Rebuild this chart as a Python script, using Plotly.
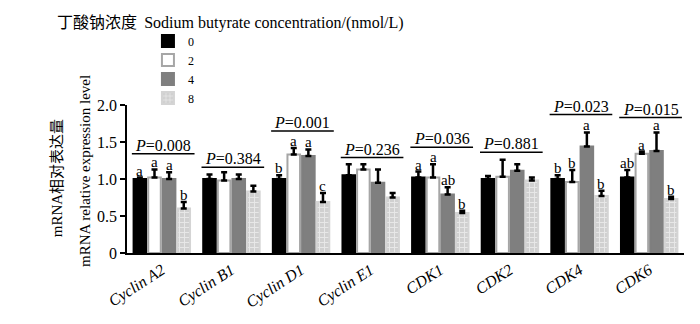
import plotly.graph_objects as go

categories = ["Cyclin A2", "Cyclin B1", "Cyclin D1", "Cyclin E1", "CDK1", "CDK2", "CDK4", "CDK6"]
series_names = ["0", "2", "4", "8"]

v0 = [1.00, 1.00, 1.00, 1.05, 1.02, 1.00, 1.00, 1.02]
e0 = [0.02, 0.06, 0.05, 0.15, 0.08, 0.04, 0.05, 0.10]
v2 = [1.02, 0.98, 1.33, 1.13, 1.02, 1.03, 0.96, 1.34]
e2 = [0.11, 0.11, 0.09, 0.07, 0.18, 0.23, 0.16, 0.03]
v4 = [1.00, 1.00, 1.31, 0.95, 0.79, 1.11, 1.44, 1.38]
e4 = [0.09, 0.06, 0.09, 0.18, 0.10, 0.09, 0.19, 0.25]
v8 = [0.60, 0.83, 0.69, 0.75, 0.54, 0.98, 0.77, 0.73]
e8 = [0.09, 0.08, 0.12, 0.06, 0.03, 0.04, 0.07, 0.03]

p_values = ["0.008", "0.384", "0.001", "0.236", "0.036", "0.881", "0.023", "0.015"]
p_line_y = [1.34, 1.16, 1.65, 1.29, 1.43, 1.36, 1.87, 1.83]

letters = [
    ["a", "a", "a", "b"],
    ["", "", "", ""],
    ["b", "a", "a", "c"],
    ["", "", "", ""],
    ["a", "a", "ab", "b"],
    ["", "", "", ""],
    ["b", "b", "a", "b"],
    ["ab", "a", "a", "b"],
]

values = [v0, v2, v4, v8]
errors = [e0, e2, e4, e8]

SERIF = "Liberation Serif"
CJK = "Noto Sans CJK SC"

fills = ["#000000", "#ffffff", "#7f7f7f", "#d4d4d4"]
lines = ["#000000", "#a6a6a6", "#7f7f7f", "#d4d4d4"]

BARGAP = 0.16
GROUPGAP = 0.14
slot = (1 - BARGAP) / 4

fig = go.Figure()
xs = list(range(len(categories)))
for j in range(4):
    marker = dict(color=fills[j], line=dict(color=lines[j], width=2))
    if j == 3:
        marker["pattern"] = dict(shape="+", fgcolor="#ffffff", bgcolor="#d0d0d0",
                                 size=5, solidity=0.35)
    fig.add_trace(go.Bar(
        x=xs, y=values[j], name=series_names[j], marker=marker,
        error_y=dict(type="data", symmetric=False, array=errors[j],
                     arrayminus=[0] * len(xs), color="#000000",
                     thickness=2.5, width=3),
    ))

annotations = []
shapes = []
for i in xs:
    shapes.append(dict(type="line", xref="x", yref="y", x0=i - 0.43, x1=i + 0.47,
                       y0=p_line_y[i], y1=p_line_y[i], line=dict(color="#000000", width=1.5)))
    annotations.append(dict(x=i + 0.02, y=p_line_y[i], xref="x", yref="y",
                            text="<i>P</i>=" + p_values[i], showarrow=False,
                            xanchor="center", yanchor="bottom", yshift=-2,
                            font=dict(family=SERIF, size=16, color="#000")))
    for j in range(4):
        if letters[i][j]:
            annotations.append(dict(x=i + (j - 1.5) * slot, y=values[j][i] + errors[j][i],
                                    xref="x", yref="y", text=letters[i][j], showarrow=False,
                                    xanchor="center", yanchor="bottom", yshift=-3,
                                    font=dict(family=SERIF, size=15, color="#000")))

# axis titles (Chinese line + English line)
annotations.append(dict(x=-0.129, y=0.506, xref="paper", yref="paper",
                        xanchor="center", yanchor="middle",
                        text="<span style='font-family:Liberation Serif'>mRNA</span>相对表达量",
                        textangle=-90, showarrow=False,
                        font=dict(family=CJK, size=15, color="#000")))
annotations.append(dict(x=-0.0753, y=0.555, xref="paper", yref="paper",
                        xanchor="center", yanchor="middle",
                        text="mRNA relative expression level", textangle=-90, showarrow=False,
                        font=dict(family=SERIF, size=15, color="#000")))
# legend title
annotations.append(dict(x=0.186, y=1.565, xref="paper", yref="paper",
                        xanchor="center", yanchor="middle",
                        text="丁酸钠浓度  <span style='font-family:Liberation Serif'>Sodium butyrate concentration/(nmol/L)</span>",
                        showarrow=False,
                        font=dict(family=CJK, size=16, color="#000")))

fig.update_layout(
    width=700, height=324,
    margin=dict(l=127, r=16, t=105, b=55),
    paper_bgcolor="#ffffff", plot_bgcolor="#ffffff",
    barmode="group", bargap=BARGAP, bargroupgap=GROUPGAP,
    showlegend=True,
    legend=dict(x=0.0376, y=1.53, xanchor="left", yanchor="top",
                font=dict(family=SERIF, size=12, color="#000"),
                tracegroupgap=0, itemwidth=30, bgcolor="rgba(0,0,0,0)"),
    annotations=annotations, shapes=shapes,
    xaxis=dict(tickmode="array", tickvals=xs,
               ticktext=["<i>" + c + "</i>" for c in categories],
               range=[-0.5, 7.5], tickangle=-33,
               showline=True, linecolor="#000", linewidth=1.5,
               ticks="", showgrid=False, zeroline=False,
               tickfont=dict(family=SERIF, size=16, color="#000")),
    yaxis=dict(range=[0, 2.0], tickvals=[0, 0.5, 1.0, 1.5, 2.0],
               ticktext=["0", "0.5", "1.0", "1.5", "2.0"],
               showline=True, linecolor="#000", linewidth=1.5,
               ticks="outside", ticklen=5, tickwidth=1.5, tickcolor="#000",
               showgrid=False, zeroline=False,
               tickfont=dict(family=SERIF, size=16, color="#000")),
)

fig.write_html("out.html")
